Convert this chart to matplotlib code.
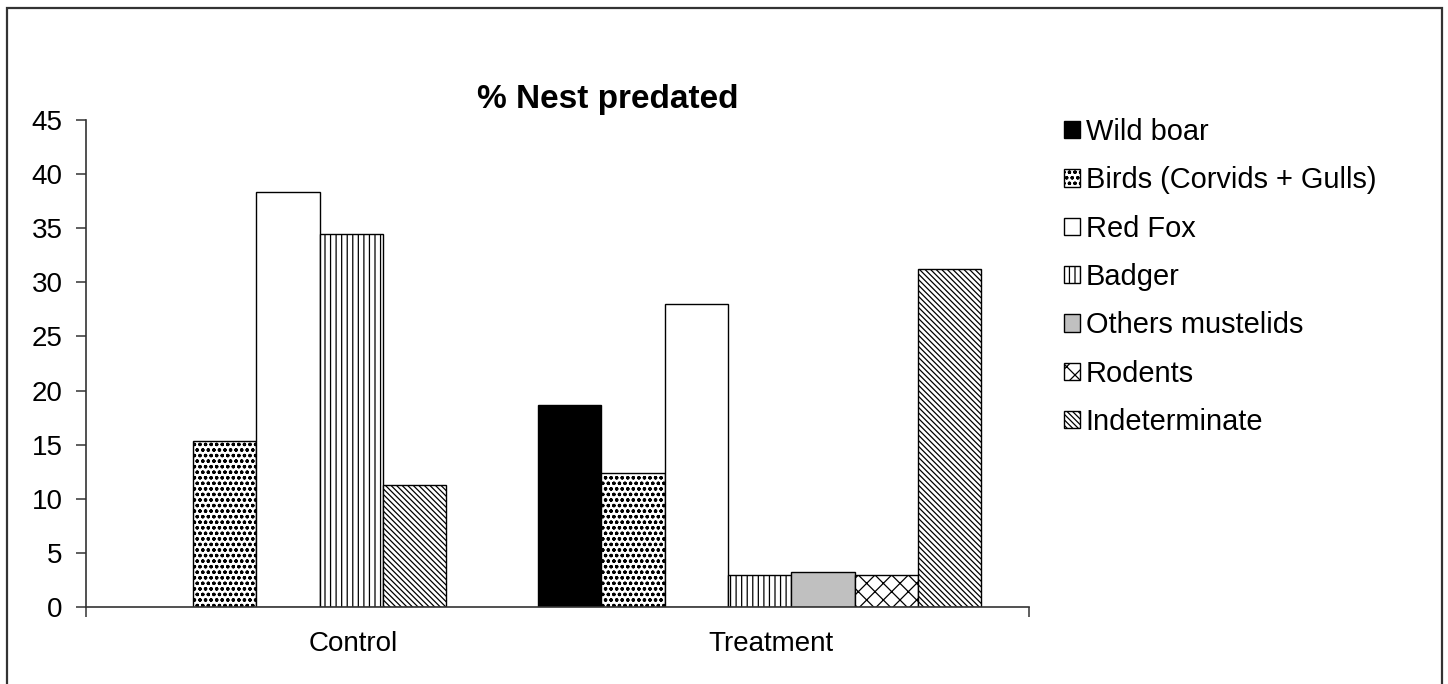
import numpy as np
import matplotlib.pyplot as plt
from matplotlib.patches import Rectangle

plt.rcParams['font.family'] = ['Liberation Sans', 'DejaVu Sans']
plt.rcParams['hatch.linewidth'] = 0.9

# --- data: % of nests predated, by predator ---
groups = ['Control', 'Treatment']
predators = ['Wild boar', 'Birds (Corvids + Gulls)', 'Red Fox', 'Badger',
             'Others mustelids', 'Rodents', 'Indeterminate']
control_pct = [0, 15.3, 38.3, 34.5, 0, 0, 11.3]
treatment_pct = [18.7, 12.4, 28.0, 3.0, 3.2, 3.0, 31.2]

# excel-ish fill patterns, one per predator
fills = ['black', 'white', 'white', 'white', '#c0c0c0', 'white', 'white']
hatches = [None, 'ooo', None, '|||', None, 'xx', '\\' * 6]

# layout of the category axis (one unit per group)
bar_w = 0.1343
group_left = [0.227, 0.959]
label_pos = [0.566, 1.453]

fig = plt.figure(figsize=(14.48, 6.84), dpi=100)
ax = fig.add_axes([0.0594, 0.1126, 0.6512, 0.712])

values = [control_pct, treatment_pct]
# bars with zero height are skipped, the rest packed side by side
xpos = [[None] * len(predators) for _ in groups]
for g, vals in enumerate(values):
    k = 0
    for i, v in enumerate(vals):
        if v > 0:
            xpos[g][i] = group_left[g] + k * bar_w
            k += 1

for i, name in enumerate(predators):
    xs = [xpos[g][i] for g in range(len(groups)) if xpos[g][i] is not None]
    hs = [values[g][i] for g in range(len(groups)) if xpos[g][i] is not None]
    ax.bar(xs, hs, width=bar_w, align='edge', color=fills[i], hatch=hatches[i],
           edgecolor='black', linewidth=1.0, label=name)

ax.set_xlim(0, 2)
ax.set_ylim(0, 45)
ax.set_yticks(np.arange(0, 46, 5))
ax.tick_params(axis='y', length=7, width=1.1, color='#333333', labelsize=20, pad=10)

ax.set_xticks([0, 2], ['', ''])
ax.tick_params(axis='x', which='major', length=7, width=1.1, color='#333333')
ax.set_xticks(label_pos, groups, minor=True)
ax.tick_params(axis='x', which='minor', length=0, labelsize=20, pad=17)

for s in ['top', 'right']:
    ax.spines[s].set_visible(False)
for s in ['left', 'bottom']:
    ax.spines[s].set_color('#333333')
    ax.spines[s].set_linewidth(1.2)

fig.text(0.42, 0.855, '% Nest predated', fontsize=24, fontweight='bold',
         ha='center', va='center')

ax.legend(loc='upper left', bbox_to_anchor=(1064 / 1448, 1 - 118 / 684),
          bbox_transform=fig.transFigure, frameon=False, borderpad=0,
          borderaxespad=0, fontsize=20.9, handlelength=0.55, handleheight=0.55,
          handletextpad=0.2, labelspacing=0.70)

# chart-area frame
fig.add_artist(Rectangle((7 / 1448, -0.01), 1435 / 1448, 1 - 8 / 684 + 0.01,
                         transform=fig.transFigure, fill=False,
                         linewidth=1.6, edgecolor='#333333'))

fig.savefig('out.png', dpi=100)
